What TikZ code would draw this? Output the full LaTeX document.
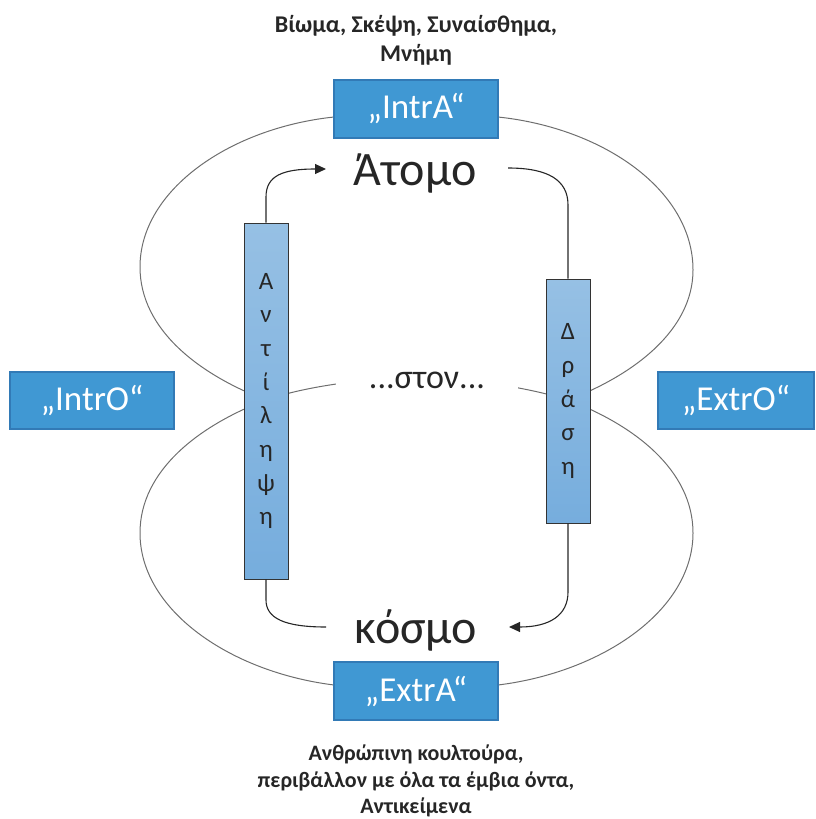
\documentclass[tikz,border=0pt]{standalone}
\usepackage{fontspec}
\setmainfont{Carlito}
\usetikzlibrary{arrows.meta}
\definecolor{boxblue}{RGB}{64,152,211}
\definecolor{boxedge}{RGB}{50,122,182}
\definecolor{bartop}{RGB}{150,192,228}
\definecolor{barbot}{RGB}{118,173,221}
\definecolor{loopgray}{RGB}{110,110,110}
\definecolor{txt}{RGB}{38,38,38}
\begin{document}
\begin{tikzpicture}[x=1pt,y=-1pt,
 bluebox/.style={draw=boxedge, line width=1.5pt, fill=boxblue, minimum width=164pt, minimum height=58pt, inner sep=0pt, text=white, font=\fontsize{35}{40}\selectfont},
 barbox/.style={draw=black!80, line width=0.9pt, top color=bartop, bottom color=barbot, minimum width=44pt, inner sep=0pt, text=txt, font=\fontsize{25}{33.7}\selectfont, align=center},
 loopline/.style={draw=loopgray, line width=1pt},
 flow/.style={draw=black!85, line width=1.1pt},
 tipped/.style={-{Triangle[length=11pt,width=10pt]}},
 bigword/.style={text=txt, font=\fontsize{48}{52}\selectfont, inner sep=0pt, anchor=base},
 notetext/.style={text=txt, font=\bfseries\fontsize{22}{27}\selectfont, inner sep=0pt, anchor=base}
]
\useasboundingbox (0,0) rectangle (815,819);

% loops
\coordinate (jl) at (266,400);
\coordinate (jr) at (568,400);
\draw[loopline] (334,117) .. controls (230,128) and (140,190) .. (140,267)
  .. controls (140,330) and (200,375) .. (jl)
  .. controls (300,388) and (360,378) .. (417,378)
  .. controls (470,378) and (530,388) .. (jr)
  .. controls (634,375) and (693,330) .. (693,270)
  .. controls (693,190) and (603,128) .. (498,117);
\draw[loopline] (jl) .. controls (200,425) and (140,470) .. (140,533)
  .. controls (140,610) and (230,672) .. (334,685);
\draw[loopline] (jr) .. controls (634,425) and (693,470) .. (693,533)
  .. controls (693,610) and (603,672) .. (498,685);

% boxes
\node[bluebox] (intra) at (416,109) {„IntrA“};
\node[bluebox] (extra) at (416,691) {„ExtrA“};
\node[bluebox, minimum height=57pt] (intro) at (92,400.5) {„IntrO“};
\node[bluebox, minimum width=156pt, minimum height=57pt] (extro) at (736,400.5) {„ExtrO“};

% bars
\node[barbox, minimum height=356pt] (ant) at (266,401) {Α\\ν\\τ\\ί\\λ\\η\\ψ\\η};
\node[barbox, minimum height=244pt] (dra) at (568,401) {Δ\\ρ\\ά\\σ\\η};

% words
\node[bigword] (atomo) at (415,185) {Άτομο};
\node[bigword] (kosmo) at (416,643) {κόσμο};
\node[text=txt, font=\fontsize{34}{40}\selectfont, anchor=base, fill=white, inner xsep=33pt, inner ysep=3pt] (ston) at (427,388) {...στον...};

\node[notetext, font=\bfseries\fontsize{24}{29}\selectfont] (t1) at (416,32) {Βίωμα, Σκέψη, Συναίσθημα,};
\node[notetext, font=\bfseries\fontsize{24}{29}\selectfont] (t2) at (416,61) {Μνήμη};
\node[notetext] (b1) at (416,760) {Ανθρώπινη κουλτούρα,};
\node[notetext] (b2) at (416,787) {περιβάλλον με όλα τα έμβια όντα,};
\node[notetext] (b3) at (416,813) {Αντικείμενα};

% flow arrows
\coordinate (atip) at (326,169);
\coordinate (astart) at (508,168);
\coordinate (ktail) at (326,627);
\coordinate (ktip) at (509,627);
\draw[flow, tipped] (ant.north) -- (266,197) .. controls (266,176) and (282,169) .. (atip);
\draw[flow] (astart) .. controls (548,168) and (568,180) .. (568,205) -- (dra.north);
\draw[flow] (ant.south) -- (266,600) .. controls (266,618) and (284,627) .. (ktail);
\draw[flow, tipped] (dra.south) -- (568,592) .. controls (568,615) and (550,627) .. (ktip);
\end{tikzpicture}
\end{document}
